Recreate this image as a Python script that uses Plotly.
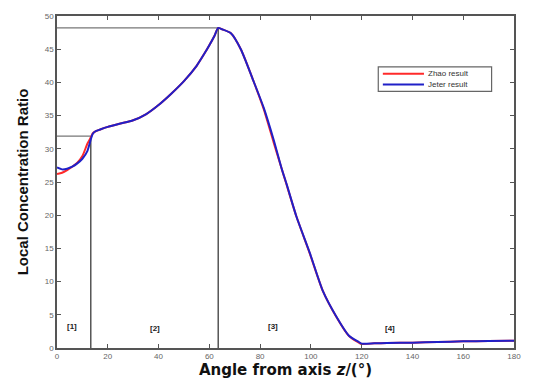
import plotly.graph_objects as go

# Angle from the z axis (degrees)
angle = [0, 2, 4, 6, 8, 10, 12, 13.3, 14, 15, 17, 20, 25, 30, 35, 40, 45, 50, 55,
         58, 60, 62, 63.5, 65, 68.5, 72.4, 77.5, 81.4, 85.3, 88.5, 90.5, 94.3,
         99.5, 104.7, 110, 115, 118.9, 120, 125, 130, 140, 150, 160, 170, 180]

# Local concentration ratio, two computations
zhao_result = [26.2, 26.4, 26.8, 27.3, 27.9, 28.9, 30.8, 31.7, 32.3, 32.6, 32.9, 33.3,
               33.8, 34.3, 35.2, 36.6, 38.3, 40.2, 42.5, 44.3, 45.6, 47.0, 48.2, 48.0,
               47.4, 45.0, 40.1, 36.0, 31.0, 27.0, 24.5, 19.8, 14.3, 8.6, 4.7, 1.8,
               0.8, 0.6, 0.7, 0.75, 0.8, 0.9, 1.0, 1.05, 1.1]
jeter_result = [27.2, 26.9, 27.0, 27.3, 27.8, 28.5, 29.7, 31.4, 32.2, 32.6, 32.9, 33.3,
                33.8, 34.3, 35.2, 36.6, 38.3, 40.2, 42.5, 44.3, 45.6, 47.0, 48.2, 48.0,
                47.4, 45.0, 40.1, 36.2, 31.4, 27.0, 24.6, 19.8, 14.4, 8.6, 4.75, 1.85,
                0.9, 0.65, 0.7, 0.75, 0.8, 0.9, 1.0, 1.05, 1.1]

series_names = ["Zhao result", "Jeter result"]
series_colors = ["#ff2a2a", "#2020c8"]

# Region boundaries (angle, ratio level) and region labels
bound_angle = [13.3, 63.5]
bound_level = [31.9, 48.2]
region_names = ["[1]", "[2]", "[3]", "[4]"]
region_x = [6, 38.5, 85, 131]
region_y = [3.2, 3.0, 3.2, 3.0]

x_ticks = list(range(0, 181, 20))
y_ticks = list(range(0, 51, 5))

fig = go.Figure()
for name, vals, col in zip(series_names, [zhao_result, jeter_result], series_colors):
    fig.add_trace(go.Scatter(x=angle, y=vals, mode="lines", name=name,
                             line=dict(color=col, width=2, shape="spline",
                                       smoothing=0.6),
                             showlegend=False))

frame = "#555555"
for a, lvl in zip(bound_angle, bound_level):
    fig.add_shape(type="line", xref="x", yref="y", x0=a, x1=a, y0=0, y1=lvl,
                  line=dict(color=frame, width=1.5), layer="below")
    fig.add_shape(type="line", xref="x", yref="y", x0=0, x1=a, y0=lvl, y1=lvl,
                  line=dict(color="#777777", width=1.2), layer="below")

for name, rx, ry in zip(region_names, region_x, region_y):
    fig.add_annotation(x=rx, y=ry, text=f"<b>{name}</b>", showarrow=False,
                       font=dict(size=8, color="#222222", family="Liberation Sans"))

# Compact boxed key in the upper right of the axes
key_x0, key_x1, key_y0, key_y1 = 0.703, 0.951, 0.773, 0.847
fig.add_shape(type="rect", xref="paper", yref="paper",
              x0=key_x0, x1=key_x1, y0=key_y0, y1=key_y1,
              line=dict(color="#666666", width=1.2), fillcolor="white")
for i, (name, col) in enumerate(zip(series_names, series_colors)):
    yy = key_y1 - 0.021 - i * 0.032
    fig.add_shape(type="line", xref="paper", yref="paper",
                  x0=key_x0 + 0.01, x1=key_x0 + 0.1, y0=yy, y1=yy,
                  line=dict(color=col, width=2))
    fig.add_annotation(xref="paper", yref="paper", x=key_x0 + 0.105, y=yy,
                       xanchor="left", yanchor="middle", text=name, showarrow=False,
                       font=dict(size=8, color="#333333", family="Liberation Sans"))

axis_common = dict(showline=True, linecolor=frame, linewidth=1.5, mirror="ticks",
                   ticks="inside", ticklen=4, tickcolor=frame, showgrid=False,
                   zeroline=False, tickfont=dict(size=8, color="#666666",
                                                 family="Liberation Sans"))

fig.update_xaxes(range=[0, 180], tickvals=x_ticks, **axis_common,
                 title=dict(text="<b>Angle from axis <i>z</i>/(°)</b>", standoff=4,
                            font=dict(size=15, color="#111111",
                                      family="DejaVu Sans")))
fig.update_yaxes(range=[0, 50], tickvals=y_ticks, **axis_common,
                 title=dict(text="<b>Local Concentration Ratio</b>", standoff=12,
                            font=dict(size=15, color="#111111",
                                      family="Liberation Sans Narrow, Liberation Sans")))

fig.update_layout(
    width=533, height=388,
    margin=dict(l=57, r=12, t=12, b=33),
    paper_bgcolor="white", plot_bgcolor="white",
    showlegend=False,
)

fig.write_html("out.html")
